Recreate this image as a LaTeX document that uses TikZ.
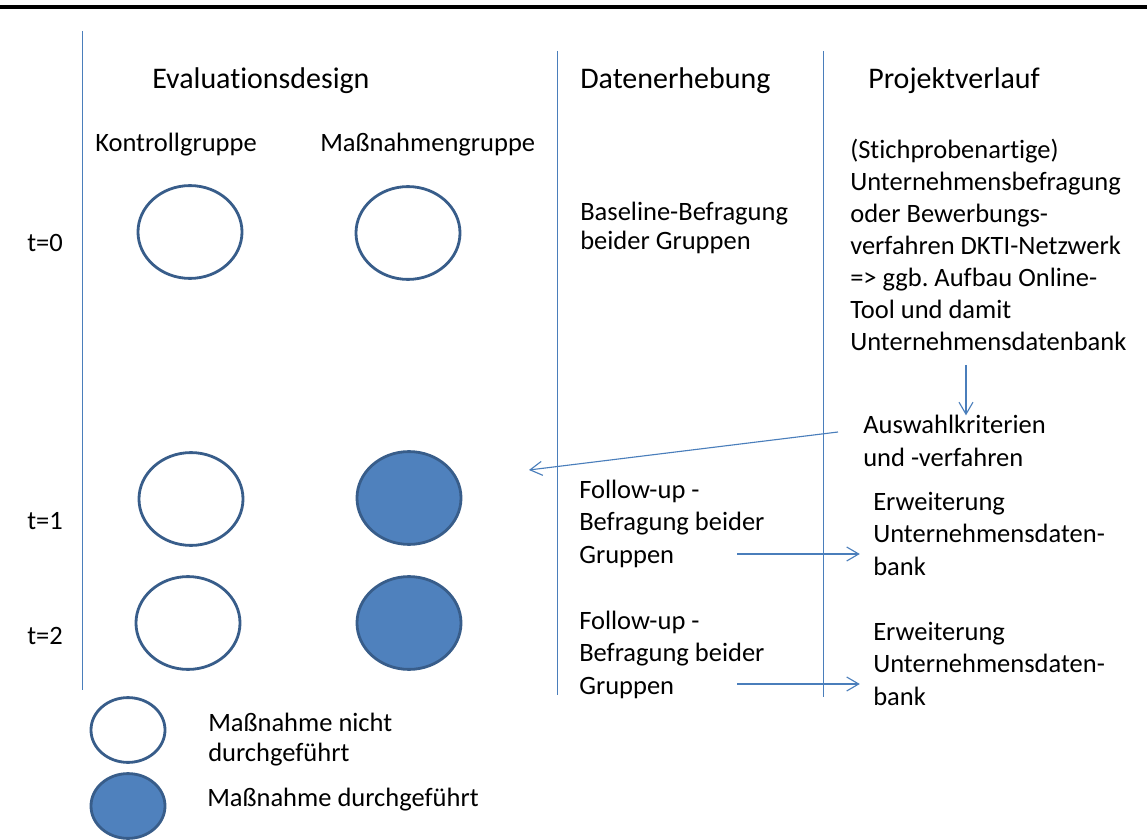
\documentclass[tikz,border=0pt]{standalone}
\usepackage{fontspec}
\setmainfont{Carlito}[Ligatures=NoCommon]
\frenchspacing
\usetikzlibrary{shapes.geometric,arrows.meta}

\definecolor{linienblau}{HTML}{4A7EBB}
\definecolor{randblau}{HTML}{385D8A}
\definecolor{fuellblau}{HTML}{4F81BD}

\tikzset{
  txt/.style={anchor=base west,inner sep=0,align=left,font=\fontsize{18.85pt}{22.76pt}\selectfont},
  kopf/.style={anchor=base west,inner sep=0,font=\fontsize{21.3pt}{25pt}\selectfont},
  gruppe/.style={ellipse,draw=randblau,line width=2pt,minimum width=2.6cm,minimum height=2.32cm,inner sep=0},
  legende/.style={gruppe,minimum width=1.85cm,minimum height=1.62cm},
  voll/.style={fill=fuellblau},
  trenner/.style={draw=linienblau,line width=0.7pt},
  pfeil/.style={->,>={Straight Barb[length=3mm,width=3.5mm]},draw=linienblau,line width=0.8pt}
}

\begin{document}
\begin{tikzpicture}[x=0.025cm,y=-0.025cm]
\useasboundingbox (0,0) rectangle (1147,840);
\draw[line width=2.2pt] (0,7) -- (1147,7);
% Spalten
\draw[trenner] (82,31) -- (82,690);
\draw[trenner] (557,51) -- (557,695);
\draw[trenner] (823,51) -- (823,697);
% Kopfzeile
\node[kopf] (design) at (152,89) {Evaluationsdesign};
\node[kopf] (daten) at (580,89) {Datenerhebung};
\node[kopf] (verlauf) at (868,89) {Projektverlauf};
\node[txt] (kontroll) at (95,152) {Kontrollgruppe};
\node[txt] (massn) at (320,152) {Maßnahmengruppe};
% Zeitpunkte
\node[txt] (t0) at (27,252) {t=0};
\node[txt] (t1) at (27,529) {t=1};
\node[txt] (t2) at (27,644) {t=2};
\node[gruppe] (k0) at (190,232) {};
\node[gruppe] (m0) at (408,233) {};
\node[gruppe] (k1) at (191,499) {};
\node[gruppe,voll] (m1) at (409,498) {};
\node[gruppe] (k2) at (188,623) {};
\node[gruppe,voll] (m2) at (409,623) {};
% Datenerhebung (base = letzte Zeile)
\node[txt,font=\fontsize{18.85pt}{21.3pt}\selectfont] (base) at (580,250) {Baseline-Befragung\\beider Gruppen};
\node[txt] (fu1) at (579,563) {Follow-up -\\Befragung beider\\Gruppen};
\node[txt] (fu2) at (579,694) {Follow-up -\\Befragung beider\\Gruppen};
% Projektverlauf
\node[txt] (projekt) at (850,351) {(Stichprobenartige)\\Unternehmensbefragung\\oder Bewerbungs-\\verfahren DKTI-Netzwerk\\=> ggb. Aufbau Online-\\Tool und damit\\Unternehmensdatenbank};
\node[txt] (auswahl) at (863,466) {Auswahlkriterien\\und -verfahren};
\node[txt] (erw1) at (873,575) {Erweiterung\\Unternehmensdaten-\\bank};
\node[txt] (erw2) at (873,705) {Erweiterung\\Unternehmensdaten-\\bank};
% Legende
\node[legende] (leer) at (128,730) {};
\node[legende,voll] (gefuellt) at (128,806) {};
\node[txt,font=\fontsize{18.85pt}{21.3pt}\selectfont] (leertxt) at (208,761) {Maßnahme nicht\\durchgeführt};
\node[txt] (volltxt) at (207,806) {Maßnahme durchgeführt};
% Pfeile
\coordinate (runter) at (966,365);
\coordinate (ziel) at (529,470);
\coordinate (fu1ende) at (737,554);
\coordinate (fu2ende) at (737,684);
\draw[pfeil] (runter) -- (runter |- auswahl.north);
\draw[pfeil] ([shift={(-25,-34)}]auswahl.base west) -- (ziel);
\draw[pfeil,shorten >=0.33cm] (fu1ende) -- (fu1ende -| erw1.west);
\draw[pfeil,shorten >=0.33cm] (fu2ende) -- (fu2ende -| erw2.west);
\end{tikzpicture}
\end{document}
